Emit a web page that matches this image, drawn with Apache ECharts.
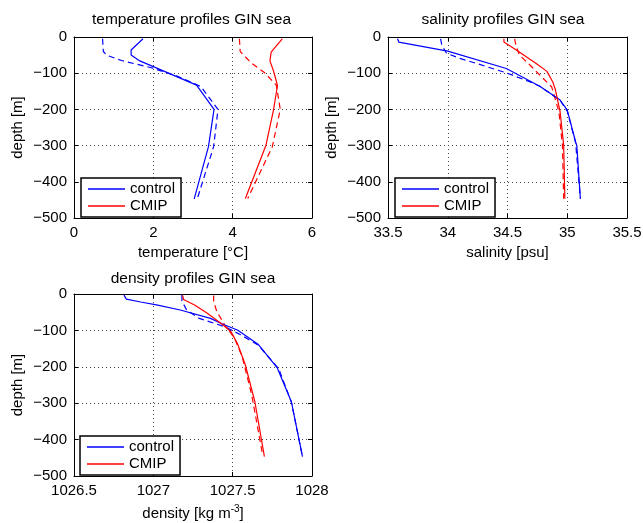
<!DOCTYPE html>
<html>
<head>
<meta charset="utf-8">
<script src="https://cdn.jsdelivr.net/npm/echarts@6/dist/echarts.min.js"></script>
<style>
html,body{margin:0;padding:0;background:#fff;}
#c{width:643px;height:523px;}
</style>
</head>
<body>
<div id="c"></div>
<script>
// ---- data: [value, depth] ----
const depthTicks = [0, -100, -200, -300, -400, -500];

const tempControl = [[1.74,-5],[1.44,-36],[1.44,-50],[1.66,-66],[3.09,-133],[3.53,-200],[3.39,-303],[3.03,-447]];
const tempControlDash = [[0.72,-5],[0.74,-40],[0.82,-50],[1.2,-65],[1.95,-85],[2.6,-108],[3.2,-137],[3.63,-200],[3.52,-303],[3.11,-446]];
const tempCMIP = [[5.25,-5],[4.97,-42],[4.94,-66],[5.03,-94],[5.13,-134],[5.03,-201],[4.84,-299],[4.32,-446]];
const tempCMIPDash = [[4.17,-5],[4.19,-40],[4.48,-73],[4.8,-98],[5.1,-133],[5.2,-200],[5.0,-303],[4.38,-446]];

const salControl = [[33.58,-5],[33.59,-14],[34.0,-39],[34.49,-87],[34.77,-136],[34.94,-174],[35.0,-202],[35.07,-290],[35.08,-300],[35.11,-447]];
const salControlDash = [[33.94,-5],[33.95,-22],[33.99,-45],[34.1,-59],[34.24,-73],[34.49,-99],[34.69,-124],[34.77,-136],[34.94,-175],[35.0,-205],[35.07,-292],[35.11,-447]];
const salCMIP = [[34.47,-5],[34.47,-14],[34.58,-37],[34.74,-73],[34.83,-95],[34.88,-125],[34.9,-145],[34.94,-206],[34.97,-298],[34.98,-447]];
const salCMIPDash = [[34.56,-5],[34.57,-23],[34.6,-50],[34.69,-78],[34.77,-105],[34.87,-138],[34.93,-206],[34.96,-300],[34.97,-447]];

const denControl = [[1026.815,-3],[1026.83,-14],[1026.92,-22],[1027.02,-30],[1027.17,-44],[1027.36,-67],[1027.45,-85],[1027.53,-99],[1027.66,-138],[1027.78,-202],[1027.87,-296],[1027.94,-447]];
const denControlDash = [[1027.18,-3],[1027.18,-19],[1027.21,-44],[1027.29,-67],[1027.38,-80],[1027.45,-90],[1027.55,-112],[1027.66,-140],[1027.79,-205],[1027.87,-297],[1027.94,-447]];
const denCMIP = [[1027.185,-4],[1027.19,-15],[1027.26,-30],[1027.34,-53],[1027.44,-85],[1027.49,-104],[1027.53,-136],[1027.58,-195],[1027.64,-296],[1027.7,-447]];
const denCMIPDash = [[1027.38,-4],[1027.38,-21],[1027.4,-48],[1027.45,-85],[1027.51,-120],[1027.56,-172],[1027.62,-277],[1027.69,-445]];

const titles = ['temperature profiles GIN sea', 'salinity profiles GIN sea', 'density profiles GIN sea'];
const xNames = ['temperature [\u00B0C]', 'salinity [psu]', 'density [kg m{sup|-3}]'];
const xRanges = [[0, 6, 2], [33.5, 35.5, 0.5], [1026.5, 1028, 0.5]];
const legendNames = ['control', 'CMIP'];

// ---- layout ----
const FONT = 'Liberation Sans, Arial, Helvetica, sans-serif';
const grids = [
  {left: 74, top: 37, width: 238, height: 181, outerBoundsMode: 'none', containLabel: false},
  {left: 388, top: 37, width: 239, height: 181, outerBoundsMode: 'none', containLabel: false},
  {left: 74, top: 294, width: 238, height: 182, outerBoundsMode: 'none', containLabel: false}
];
const nameGaps = [27, 27, 28];
const BLUE = '#0000ff', RED = '#ff0000';
const minus = v => String(v).replace('-', '\u2212');
const plain = v => String(v);

const xAxes = [], yAxes = [];
grids.forEach((g, i) => {
  const [mn, mx, iv] = xRanges[i];
  xAxes.push({
    type: 'value', gridIndex: i, min: mn, max: mx, interval: iv, position: 'bottom',
    name: xNames[i], nameLocation: 'middle', nameGap: nameGaps[i],
    nameTextStyle: {fontFamily: FONT, fontSize: 15, color: '#000',
      rich: {sup: {fontFamily: FONT, fontSize: 10, color: '#000', padding: [0, 0, 9, 0]}}},
    axisLine: {show: true, onZero: false, lineStyle: {color: '#000', width: 1}},
    axisTick: {show: true, inside: true, length: 4, lineStyle: {color: '#000'}},
    axisLabel: {fontFamily: FONT, fontSize: 15, color: '#000', margin: 7, formatter: plain},
    splitLine: {show: true, lineStyle: {color: '#444', type: [1, 3], width: 1}}
  });
  xAxes.push({
    type: 'value', gridIndex: i, min: mn, max: mx, interval: iv, position: 'top',
    axisLine: {show: true, onZero: false, lineStyle: {color: '#000', width: 1}},
    axisTick: {show: true, inside: true, length: 4, lineStyle: {color: '#000'}},
    axisLabel: {show: false}, splitLine: {show: false}
  });
  yAxes.push({
    type: 'value', gridIndex: i, min: -500, max: 0, interval: 100, position: 'left',
    name: 'depth [m]', nameLocation: 'middle', nameGap: 49, nameRotate: 90,
    nameTextStyle: {fontFamily: FONT, fontSize: 15, color: '#000'},
    axisLine: {show: true, onZero: false, lineStyle: {color: '#000', width: 1}},
    axisTick: {show: true, inside: true, length: 4, lineStyle: {color: '#000'}},
    axisLabel: {fontFamily: FONT, fontSize: 15, color: '#000', margin: 7, formatter: minus},
    splitLine: {show: true, lineStyle: {color: '#444', type: [1, 3], width: 1}}
  });
  yAxes.push({
    type: 'value', gridIndex: i, min: -500, max: 0, interval: 100, position: 'right',
    axisLine: {show: true, onZero: false, lineStyle: {color: '#000', width: 1}},
    axisTick: {show: true, inside: true, length: 4, lineStyle: {color: '#000'}},
    axisLabel: {show: false}, splitLine: {show: false}
  });
});

function line(name, data, gi, color, dashed) {
  return {
    type: 'line', name: name, data: data,
    xAxisIndex: gi * 2, yAxisIndex: gi * 2,
    symbol: 'none', showSymbol: false, animation: false, z: dashed ? 3 : 4,
    lineStyle: {color: color, width: 1.2, type: dashed ? [6, 4] : 'solid'},
    itemStyle: {color: color}
  };
}

const series = [
  line('control', tempControl, 0, BLUE, false),
  line('control dashed', tempControlDash, 0, BLUE, true),
  line('CMIP', tempCMIP, 0, RED, false),
  line('CMIP dashed', tempCMIPDash, 0, RED, true),
  line('control', salControl, 1, BLUE, false),
  line('control dashed', salControlDash, 1, BLUE, true),
  line('CMIP', salCMIP, 1, RED, false),
  line('CMIP dashed', salCMIPDash, 1, RED, true),
  line('control', denControl, 2, BLUE, false),
  line('control dashed', denControlDash, 2, BLUE, true),
  line('CMIP', denCMIP, 2, RED, false),
  line('CMIP dashed', denCMIPDash, 2, RED, true)
];

const titleCenters = [[191.5, 12], [503, 12], [193, 271]];
const legendPos = [[81, 178], [395, 178], [80, 436]];

const option = {
  animation: false,
  backgroundColor: '#fff',
  title: titles.map((t, i) => ({
    text: t, left: titleCenters[i][0], top: titleCenters[i][1], textAlign: 'center', padding: 0,
    textStyle: {fontFamily: FONT, fontSize: 15.5, fontWeight: 'normal', color: '#000'}
  })),
  legend: legendPos.map(p => ({
    data: legendNames.map(n => ({name: n, icon: 'rect'})),
    orient: 'vertical', left: p[0], top: p[1],
    padding: [3, 6, 3, 7], itemGap: 1, itemWidth: 37, itemHeight: 1.3,
    backgroundColor: '#fff', borderColor: '#000', borderWidth: 1.5,
    selectedMode: false,
    textStyle: {fontFamily: FONT, fontSize: 15, color: '#000', lineHeight: 16}
  })),
  grid: grids,
  xAxis: xAxes,
  yAxis: yAxes,
  series: series
};

echarts.init(document.getElementById('c'), null, {renderer: 'canvas'}).setOption(option);
</script>
</body>
</html>
